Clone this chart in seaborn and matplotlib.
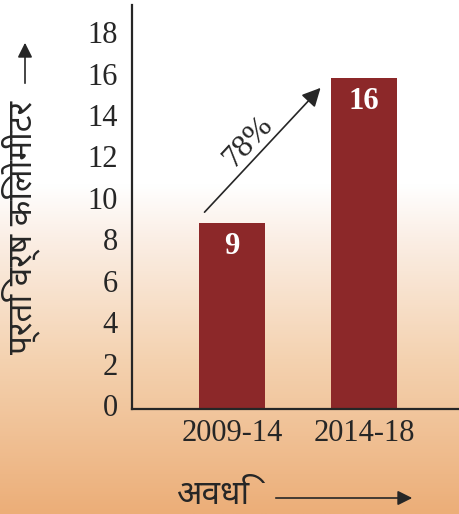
import numpy as np
import matplotlib
matplotlib.use("Agg")
import matplotlib.pyplot as plt
import matplotlib.transforms as mtransforms
from matplotlib.colors import LinearSegmentedColormap
import seaborn as sns

# data
periods = ["2009-14", "2014-18"]
km_per_year = [9, 16]
growth_label = "78%"
y_ticks = [0, 2, 4, 6, 8, 10, 12, 14, 16, 18]

ylabel_text = "प्रति वर्ष किलोमीटर"
xlabel_text = "अवधि"

bar_color = "#8c2829"
ink = "#262626"

sns.set_theme(style="white")
serif = ["Liberation Serif", "DejaVu Serif"]
deva = ["Noto Sans Devanagari", "Lohit Devanagari", "FreeSans", "Noto Sans", "DejaVu Sans"]
plt.rcParams["font.family"] = serif

fig = plt.figure(figsize=(4.59, 5.14), dpi=100)

# gradient background: white at top, peach/orange at bottom
bg = fig.add_axes([0, 0, 1, 1], zorder=-10)
grad_cmap = LinearSegmentedColormap.from_list(
    "bg",
    [(0.0, "#ffffff"), (0.36, "#ffffff"), (0.46, "#fbefe6"),
     (0.70, "#f4d2b0"), (1.0, "#ecae78")],
)
bg.imshow(np.linspace(0, 1, 256).reshape(-1, 1), aspect="auto", cmap=grad_cmap,
          extent=[0, 1, 0, 1], origin="upper")
bg.set_axis_off()

ax = fig.add_axes([132 / 459, 105 / 514, 327 / 459, 404 / 514])
ax.set_facecolor("none")

sns.barplot(x=periods, y=km_per_year, color=bar_color, saturation=1,
            width=0.5, linewidth=0, edgecolor=bar_color, ax=ax)

ax.set_xlim(-0.76, 1.72)
ax.set_ylim(0, 19.5)
ax.set_yticks(y_ticks)
ax.tick_params(axis="both", length=0, labelsize=22, labelcolor=ink)
ax.tick_params(axis="y", pad=10)
ax.tick_params(axis="x", pad=7)
for lab in ax.get_yticklabels():
    lab.set_transform(lab.get_transform() +
                      mtransforms.ScaledTranslation(0, 4 / 100, fig.dpi_scale_trans))

for side in ["top", "right"]:
    ax.spines[side].set_visible(False)
for side in ["left", "bottom"]:
    ax.spines[side].set_color(ink)
    ax.spines[side].set_linewidth(1.6)

# value labels inside the bars
for i, v in enumerate(km_per_year):
    ax.text(i, v - 1.15, str(v), ha="center", va="center", color="white",
            fontsize=22, fontweight="bold")

# growth arrow between the bars
ax.annotate("", xy=(0.67, km_per_year[1] - 0.5), xytext=(-0.21, km_per_year[0] + 0.5),
            arrowprops=dict(arrowstyle="-|>", color=ink, lw=1.2,
                            mutation_scale=28, shrinkA=0, shrinkB=0))
ax.text(0.12, 12.9, growth_label, rotation=47, ha="center", va="center",
        fontsize=23, color=ink)

# axis titles (Devanagari) with arrows
ax.set_xlabel("")
ax.set_ylabel(ylabel_text, fontsize=24, color=ink, family=deva)
ax.yaxis.set_label_coords(-0.28, 0.45)
fig.text(176 / 459, 1 - 496 / 514, xlabel_text, fontsize=24, color=ink,
         family=deva, ha="left", va="center")

fig.add_artist(matplotlib.patches.FancyArrowPatch(
    (25 / 459, 1 - 86 / 514), (25 / 459, 1 - 40 / 514), transform=fig.transFigure,
    arrowstyle="-|>", mutation_scale=22, color=ink, lw=1.2))
fig.add_artist(matplotlib.patches.FancyArrowPatch(
    (273 / 459, 1 - 498 / 514), (415 / 459, 1 - 498 / 514), transform=fig.transFigure,
    arrowstyle="-|>", mutation_scale=22, color=ink, lw=1.2))

fig.savefig("out.png", dpi=100)
